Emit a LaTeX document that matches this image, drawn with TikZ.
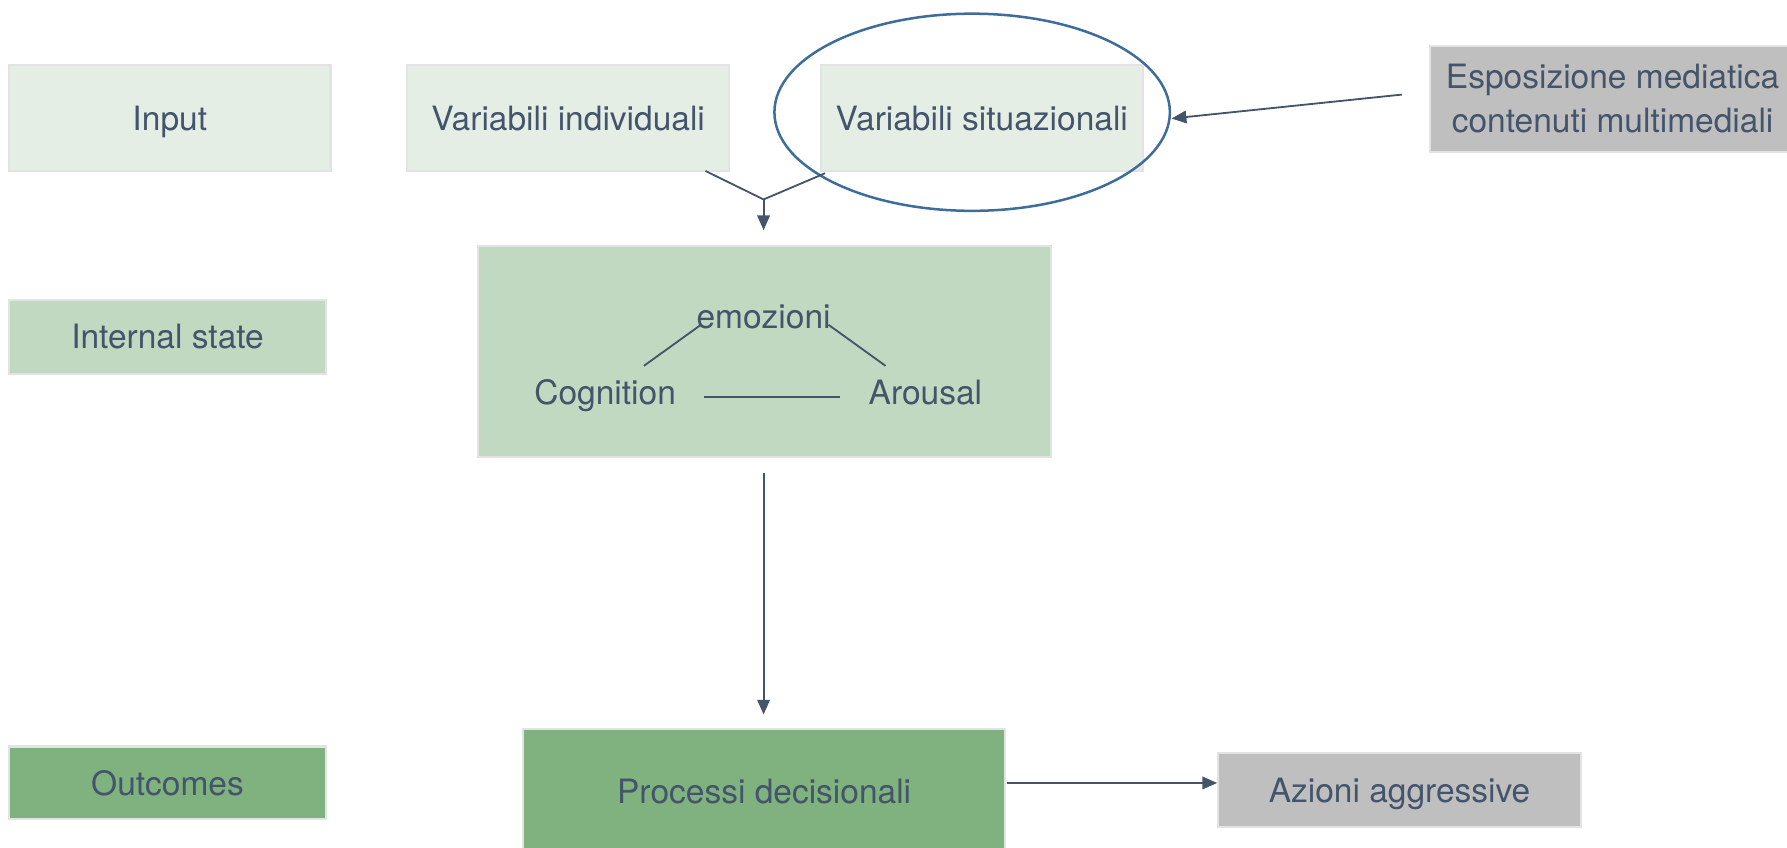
\documentclass[tikz,border=0pt]{standalone}
\usepackage{fontspec}
\setmainfont{TeX Gyre Heros}
\usetikzlibrary{arrows.meta,shapes.geometric}
\definecolor{lgreen}{HTML}{E5EEE5}
\definecolor{mgreen}{HTML}{C1D8C1}
\definecolor{dgreen}{HTML}{80B27F}
\definecolor{boxgrey}{HTML}{BFBFBF}
\definecolor{edge}{HTML}{E3E3E3}
\definecolor{ink}{HTML}{44546A}
\definecolor{ringblue}{HTML}{3E6D9C}
\begin{document}
\begin{tikzpicture}[x=0.5pt,y=-0.5pt,
  every node/.style={text=ink,font=\fontsize{14.7pt}{17.5pt}\selectfont},
  box/.style={rectangle,draw=edge,line width=0.9pt,inner sep=0pt,align=center},
  onel/.style={box,text depth=0pt},
  lbl/.style={anchor=base,inner sep=0pt},
  link/.style={draw=ink,line width=0.8pt},
  arr/.style={link,-{Triangle[length=6.5pt,width=5.5pt]}}]
\useasboundingbox (0,0) rectangle (1568,744);
% boxes
\node[onel,fill=lgreen,minimum width=141pt,minimum height=46.5pt] (input) at (149,103.5) {Input};
\node[onel,fill=lgreen,minimum width=141.5pt,minimum height=46.5pt] (varind) at (498.5,103.5) {Variabili individuali};
\node[onel,fill=lgreen,minimum width=141.5pt,minimum height=46.5pt] (varsit) at (861.5,103.5) {Variabili situazionali};
\node[ellipse,draw=ringblue,line width=1.1pt,minimum width=173.5pt,minimum height=86.5pt] (ring) at (853,98.5) {};
\node[box,fill=boxgrey,minimum width=160pt,minimum height=46.5pt] (espo) at (1415,86.5) {Esposizione mediatica\\[1.5pt]contenuti multimediali};
\node[onel,fill=mgreen,minimum width=139pt,minimum height=32.5pt] (intstate) at (147,295.5) {Internal state};
\node[box,fill=mgreen,minimum width=251.5pt,minimum height=92.5pt] (big) at (670.5,308.5) {};
\node[lbl] (emo) at (670,288) {emozioni};
\node[lbl] (cog) at (531,355) {Cognition};
\node[lbl] (aro) at (812,355) {Arousal};
\node[onel,fill=dgreen,minimum width=139pt,minimum height=32pt] (outc) at (147,687) {Outcomes};
\node[onel,fill=dgreen,minimum width=211.5pt,minimum height=54pt] (proc) at (670.5,694) {Processi decisionali};
\node[onel,fill=boxgrey,minimum width=159pt,minimum height=32.5pt] (azi) at (1228,693.5) {Azioni aggressive};
% helper coordinates
\coordinate (vi) at (619,150);
\coordinate (vs) at (724,152);
\coordinate (j) at (670,175);
\coordinate (jt) at (670,202);
\coordinate (e1) at (615,285);
\coordinate (c1) at (565,321);
\coordinate (e2) at (727,285);
\coordinate (a1) at (777,321);
\coordinate (c2) at (618,348);
\coordinate (a2) at (737,348);
\coordinate (bs) at (670,415);
\coordinate (pt) at (670,627);
\coordinate (es) at (1230,83);
\coordinate (rt) at (1028,104);
\coordinate (ps) at (884,687);
\coordinate (at) at (1068,687);
% connectors
\draw[link] (vi) -- (j);
\draw[link] (vs) -- (j);
\draw[arr] (j) -- (jt);
\draw[link] (e1) -- (c1);
\draw[link] (e2) -- (a1);
\draw[link] (c2) -- (a2);
\draw[arr] (bs) -- (pt);
\draw[arr] (es) -- (rt);
\draw[arr] (ps) -- (at);
\end{tikzpicture}
\end{document}
